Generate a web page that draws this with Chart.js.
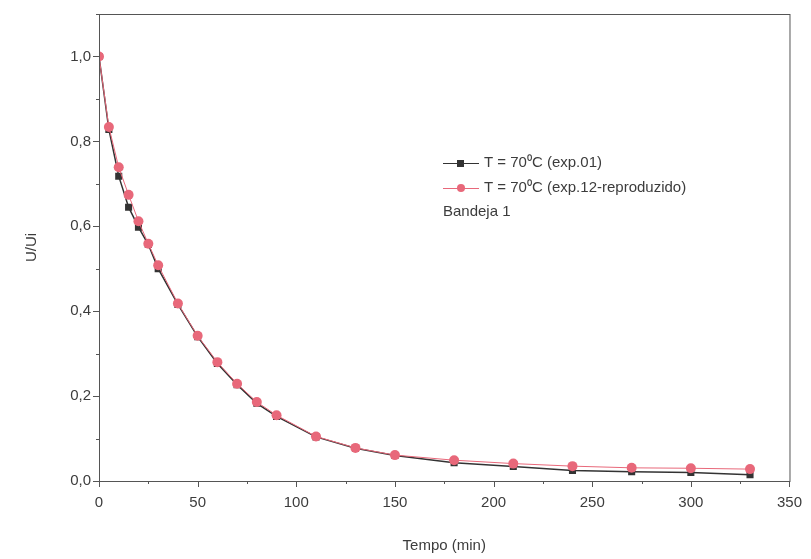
<!DOCTYPE html>
<html>
<head>
<meta charset="utf-8">
<script src="https://cdn.jsdelivr.net/npm/chart.js@4.4.1/dist/chart.umd.min.js"></script>
<style>
  html, body { margin: 0; padding: 0; background: #fff; }
  #wrap { width: 811px; height: 559px; }
</style>
</head>
<body>
<div id="wrap"><canvas id="myChart" width="811" height="559"></canvas></div>
<script>
// tempo (min)
var tempo = [0, 5, 10, 15, 20, 25, 30, 40, 50, 60, 70, 80, 90, 110, 130, 150, 180, 210, 240, 270, 300, 330];
// U/Ui exp.01
var exp01 = [1.0, 0.828, 0.718, 0.645, 0.598, 0.557, 0.500, 0.416, 0.340, 0.277, 0.227, 0.183, 0.152, 0.104, 0.077, 0.060, 0.043, 0.034, 0.025, 0.022, 0.020, 0.015];
// U/Ui exp.12-reproduzido
var exp12 = [1.0, 0.834, 0.739, 0.674, 0.612, 0.559, 0.508, 0.418, 0.342, 0.280, 0.229, 0.186, 0.155, 0.105, 0.078, 0.061, 0.049, 0.041, 0.035, 0.031, 0.030, 0.028];

var labelExp01 = 'T = 70\u2070C (exp.01)';
var labelExp12 = 'T = 70\u2070C (exp.12-reproduzido)';
var nota = 'Bandeja 1';

var axisColor = '#555';
var textColor = '#3c3c3c';
var redColor = '#e8687a';
var blackColor = '#333';

function pts(ys) {
    return tempo.map(function (t, i) { return { x: t, y: ys[i] }; });
}

// frame, minor ticks, legend
var extras = {
    id: 'extras',
    afterDraw: function (chart) {
        var c = chart.ctx, a = chart.chartArea;
        var xs = chart.scales.x, ys = chart.scales.y;
        c.save();
        c.strokeStyle = axisColor;
        c.lineWidth = 1;
        c.strokeRect(a.left + 0.5, a.top + 0.5, a.right - a.left, a.bottom - a.top);
        c.beginPath();
        for (var v = 0; v <= 350; v += 25) {
            var px = Math.round(xs.getPixelForValue(v)) + 0.5;
            var len = (v % 50 === 0) ? 6 : 3;
            c.moveTo(px, a.bottom); c.lineTo(px, a.bottom + len);
        }
        for (var k = 0; k <= 11; k++) {
            var py = Math.round(ys.getPixelForValue(k / 10)) + 0.5;
            var l2 = (k % 2 === 0) ? 6 : 3;
            c.moveTo(a.left, py); c.lineTo(a.left - l2, py);
        }
        c.stroke();

        // legend
        var lx = 443, ly = 163;
        c.font = '15px "Liberation Sans", Arial, sans-serif';
        c.textBaseline = 'middle';
        c.fillStyle = textColor;
        // row 1
        c.strokeStyle = blackColor;
        c.beginPath(); c.moveTo(lx, ly + 0.5); c.lineTo(lx + 36, ly + 0.5); c.stroke();
        c.fillStyle = blackColor;
        c.fillRect(lx + 14, ly - 3, 7, 7);
        c.fillStyle = textColor;
        c.fillText(labelExp01, lx + 41, ly);
        // row 2
        var ly2 = ly + 25;
        c.strokeStyle = redColor;
        c.beginPath(); c.moveTo(lx, ly2 + 0.5); c.lineTo(lx + 36, ly2 + 0.5); c.stroke();
        c.fillStyle = redColor;
        c.beginPath(); c.arc(lx + 18, ly2, 4, 0, Math.PI * 2); c.fill();
        c.fillStyle = textColor;
        c.fillText(labelExp12, lx + 41, ly2);
        // note
        c.fillText(nota, lx, ly2 + 24);
        c.restore();
    }
};

var ctx = document.getElementById('myChart');
var myChart = new Chart(ctx, {
    type: 'line',
    data: {
        datasets: [{
            label: labelExp12,
            data: pts(exp12),
            order: 0,
            borderColor: redColor,
            backgroundColor: redColor,
            borderWidth: 1,
            pointStyle: 'circle',
            pointRadius: 5,
            pointBorderWidth: 0,
            tension: 0
        }, {
            label: labelExp01,
            data: pts(exp01),
            order: 1,
            borderColor: blackColor,
            backgroundColor: blackColor,
            borderWidth: 1.5,
            pointStyle: 'rect',
            pointRadius: 5,
            pointBorderWidth: 0,
            tension: 0
        }]
    },
    options: {
        responsive: false,
        animation: false,
        layout: { padding: { top: 14, right: 14, left: 19, bottom: 0 } },
        plugins: { legend: { display: false }, tooltip: { enabled: false } },
        scales: {
            x: {
                type: 'linear',
                min: 0, max: 350,
                afterFit: function (s) { s.height = 78; },
                ticks: {
                    stepSize: 25,
                    autoSkip: false,
                    maxRotation: 0,
                    padding: 9,
                    color: textColor,
                    font: { family: '"Liberation Sans", Arial, sans-serif', size: 15 },
                    callback: function (v) { return v % 50 === 0 ? String(v) : ''; }
                },
                grid: { drawOnChartArea: false, drawTicks: true, tickLength: 4, tickColor: 'rgba(0,0,0,0)' },
                border: { display: true, color: axisColor },
                title: {
                    display: true, text: 'Tempo (min)', color: textColor,
                    font: { family: '"Liberation Sans", Arial, sans-serif', size: 15 },
                    padding: { top: 14 }
                }
            },
            y: {
                type: 'linear',
                min: 0, max: 1.1,
                afterFit: function (s) { s.width = 80; },
                ticks: {
                    stepSize: 0.1,
                    autoSkip: false,
                    padding: 4,
                    color: textColor,
                    font: { family: '"Liberation Sans", Arial, sans-serif', size: 15 },
                    callback: function (v) {
                        var k = Math.round(v * 10);
                        return k % 2 === 0 ? (k / 10).toFixed(1).replace('.', ',') : '';
                    }
                },
                grid: { drawOnChartArea: false, drawTicks: true, tickLength: 4, tickColor: 'rgba(0,0,0,0)' },
                border: { display: true, color: axisColor },
                title: {
                    display: true, text: 'U/Ui', color: textColor,
                    font: { family: '"Liberation Sans", Arial, sans-serif', size: 15 },
                    padding: { bottom: 10 }
                }
            }
        }
    },
    plugins: [extras]
});
</script>
</body>
</html>
